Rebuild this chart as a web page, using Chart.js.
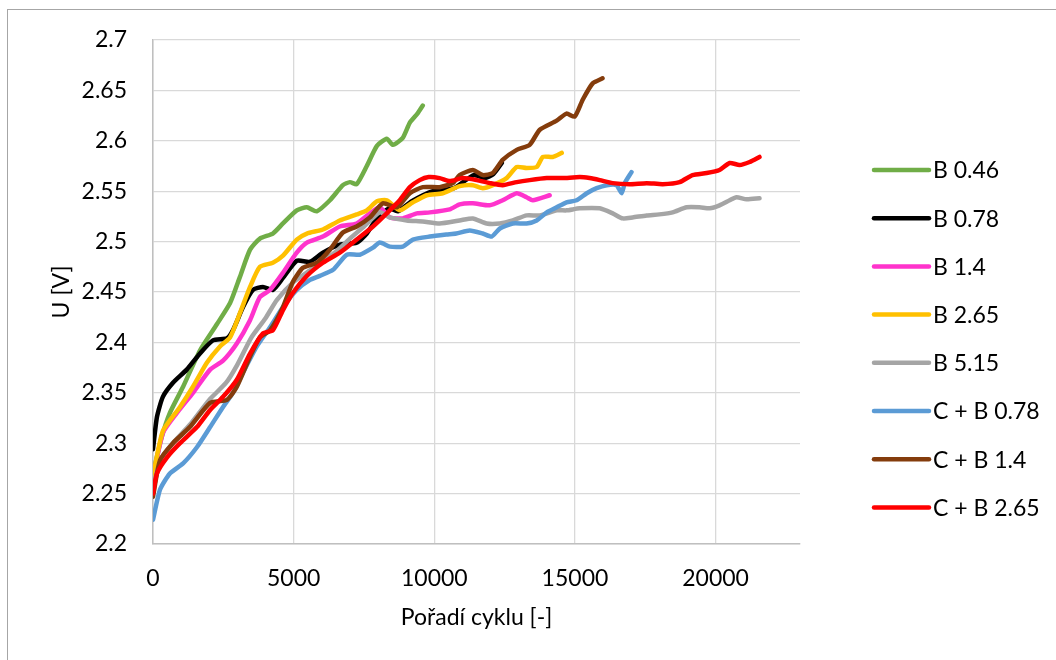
<!DOCTYPE html>
<html>
<head>
<meta charset="utf-8">
<script src="https://cdn.jsdelivr.net/npm/chart.js@4/dist/chart.umd.min.js"></script>
<style>
  html, body { margin: 0; padding: 0; background: #ffffff; }
  #wrap { width: 1056px; height: 660px; position: relative; }
</style>
</head>
<body>
<div id="wrap"><canvas id="c" width="1056" height="660"></canvas></div>
<script>
// ---- data ----
const seriesLabels = ['B 0.46', 'B 0.78', 'B 1.4', 'B 2.65', 'B 5.15', 'C + B 0.78', 'C + B 1.4', 'C + B 2.65'];
const seriesColors = ['#70AD47', '#000000', '#FF33CC', '#FFC000', '#A5A5A5', '#5B9BD5', '#843C0C', '#FF0000'];

const cycB046 = [0, 300, 600, 1070, 1670, 2270, 2740, 3090, 3450, 3800, 4260, 4620, 5110, 5470, 5820, 6290, 6750, 7000, 7240, 7600, 7960, 8310, 8530, 8880, 9130, 9400, 9590];
const uB046   = [2.27, 2.305, 2.33, 2.356, 2.392, 2.418, 2.439, 2.465, 2.492, 2.503, 2.508, 2.518, 2.531, 2.534, 2.530, 2.541, 2.556, 2.559, 2.557, 2.575, 2.595, 2.602, 2.596, 2.603, 2.618, 2.627, 2.635];

const cycB078 = [0, 140, 350, 710, 1200, 1670, 2130, 2630, 2840, 3200, 3550, 3910, 4260, 4620, 5110, 5580, 6040, 6640, 7240, 7600, 8000, 8400, 8700, 9200, 9950, 10700, 11400, 11800, 12100, 12400];
const uB078   = [2.294, 2.326, 2.346, 2.36, 2.373, 2.389, 2.402, 2.404, 2.412, 2.435, 2.452, 2.455, 2.452, 2.464, 2.481, 2.480, 2.489, 2.497, 2.499, 2.508, 2.525, 2.533, 2.530, 2.540, 2.550, 2.553, 2.566, 2.563, 2.567, 2.578];

const cycB14 = [0, 350, 850, 1420, 2030, 2490, 2980, 3450, 3800, 4160, 4620, 5110, 5470, 6040, 6640, 7240, 7710, 8060, 8420, 8880, 9380, 9840, 10550, 10900, 11370, 11970, 12430, 12930, 13280, 13500, 14100];
const uB14   = [2.265, 2.31, 2.33, 2.35, 2.373, 2.382, 2.399, 2.422, 2.445, 2.452, 2.469, 2.489, 2.499, 2.505, 2.515, 2.518, 2.528, 2.534, 2.524, 2.523, 2.528, 2.529, 2.532, 2.537, 2.538, 2.536, 2.541, 2.548, 2.544, 2.541, 2.546];

const cycB265 = [0, 350, 960, 1420, 1920, 2380, 2740, 3090, 3450, 3800, 4260, 4620, 5110, 5470, 6040, 6640, 7240, 7600, 7960, 8310, 8770, 9240, 9730, 10300, 10900, 11370, 11720, 12080, 12570, 12930, 13280, 13640, 13860, 14210, 14530];
const uB265   = [2.267, 2.312, 2.336, 2.356, 2.38, 2.396, 2.405, 2.429, 2.455, 2.475, 2.479, 2.486, 2.502, 2.508, 2.512, 2.521, 2.527, 2.531, 2.540, 2.541, 2.531, 2.539, 2.546, 2.548, 2.555, 2.556, 2.553, 2.556, 2.563, 2.574, 2.573, 2.574, 2.584, 2.584, 2.588];

const cycB515 = [0, 300, 700, 1300, 2000, 2600, 3000, 3500, 4000, 4400, 5000, 5500, 6000, 6500, 7000, 7500, 8060, 8420, 9020, 9590, 10190, 10900, 11370, 11860, 12330, 12790, 13280, 13750, 14350, 14700, 15170, 15880, 16340, 16700, 17050, 17550, 18000, 18470, 18970, 19430, 19790, 20140, 20500, 20740, 21100, 21560];
const uB515   = [2.258, 2.285, 2.30, 2.318, 2.343, 2.36, 2.378, 2.405, 2.424, 2.442, 2.46, 2.47, 2.48, 2.49, 2.503, 2.515, 2.529, 2.524, 2.521, 2.520, 2.518, 2.521, 2.523, 2.518, 2.518, 2.521, 2.526, 2.526, 2.531, 2.531, 2.533, 2.533, 2.528, 2.523, 2.524, 2.526, 2.527, 2.529, 2.534, 2.534, 2.533, 2.536, 2.541, 2.544, 2.542, 2.543];

const cycCB078 = [0, 250, 600, 1070, 1560, 2030, 2490, 2840, 3200, 3690, 4160, 4620, 5110, 5580, 5930, 6400, 6890, 7350, 7820, 8060, 8420, 8880, 9240, 9840, 10430, 10780, 11260, 11720, 12040, 12330, 12790, 13280, 13640, 14000, 14350, 14700, 15060, 15420, 15770, 16130, 16480, 16660, 16770, 17010];
const uCB078   = [2.224, 2.254, 2.27, 2.28, 2.296, 2.316, 2.336, 2.35, 2.37, 2.396, 2.415, 2.435, 2.452, 2.462, 2.466, 2.472, 2.487, 2.487, 2.494, 2.499, 2.495, 2.495, 2.502, 2.505, 2.507, 2.508, 2.511, 2.508, 2.505, 2.513, 2.518, 2.518, 2.521, 2.529, 2.534, 2.539, 2.541, 2.548, 2.553, 2.556, 2.556, 2.548, 2.558, 2.569];

const cycCB14 = [0, 250, 710, 1310, 2030, 2630, 2980, 3450, 3800, 4160, 4620, 4970, 5330, 5820, 6290, 6750, 7240, 7710, 8170, 8670, 9130, 9590, 10190, 10660, 10900, 11370, 11720, 12080, 12430, 12930, 13390, 13750, 14350, 14700, 14990, 15280, 15630, 15980];
const uCB14   = [2.247, 2.283, 2.30, 2.316, 2.34, 2.343, 2.356, 2.386, 2.405, 2.412, 2.435, 2.460, 2.474, 2.479, 2.492, 2.509, 2.515, 2.524, 2.538, 2.534, 2.548, 2.554, 2.554, 2.558, 2.566, 2.571, 2.566, 2.568, 2.581, 2.591, 2.596, 2.611, 2.620, 2.627, 2.624, 2.641, 2.657, 2.662];

const cycCB265 = [0, 140, 500, 960, 1560, 2030, 2490, 2980, 3450, 3910, 4260, 4620, 4970, 5470, 6040, 6640, 7240, 7820, 8310, 8770, 9130, 9480, 9800, 10190, 10550, 11010, 11510, 11970, 12430, 12930, 13390, 14000, 14560, 15170, 15520, 15880, 16340, 16940, 17550, 18120, 18720, 19180, 19680, 20140, 20500, 20850, 21210, 21560];
const uCB265   = [2.25, 2.27, 2.286, 2.30, 2.316, 2.333, 2.346, 2.363, 2.389, 2.409, 2.412, 2.432, 2.449, 2.466, 2.479, 2.489, 2.502, 2.515, 2.528, 2.541, 2.554, 2.561, 2.564, 2.563, 2.560, 2.563, 2.561, 2.558, 2.556, 2.559, 2.561, 2.563, 2.563, 2.564, 2.563, 2.561, 2.558, 2.557, 2.558, 2.557, 2.559, 2.566, 2.568, 2.571, 2.578, 2.576, 2.579, 2.584];

const xTickValues = [0, 5000, 10000, 15000, 20000];
const yTickValues = [2.2, 2.25, 2.3, 2.35, 2.4, 2.45, 2.5, 2.55, 2.6, 2.65, 2.7];
const xTitle = 'Pořadí cyklu [-]';
const yTitle = 'U [V]';
const xMin = 0, xMax = 23000;
const yMin = 2.2, yMax = 2.7;

// ---- build ----
const xs = [cycB046, cycB078, cycB14, cycB265, cycB515, cycCB078, cycCB14, cycCB265];
const ys = [uB046, uB078, uB14, uB265, uB515, uCB078, uCB14, uCB265];
const FONT = 'Lato, "Open Sans", sans-serif';
const FSIZE = 23;

const datasets = seriesLabels.map((lab, i) => ({
  label: lab,
  data: xs[i].map((x, k) => ({ x: x, y: ys[i][k] })),
  borderColor: seriesColors[i],
  backgroundColor: seriesColors[i],
  borderWidth: 4.5,
  pointRadius: 0,
  tension: 0.2,
  fill: false,
  borderCapStyle: 'round',
  borderJoinStyle: 'round',
  order: seriesLabels.length - i
}));

const frameAndLegend = {
  id: 'frameAndLegend',
  beforeDraw(chart) {
    const ctx = chart.ctx;
    ctx.save();
    ctx.fillStyle = '#ffffff';
    ctx.fillRect(0, 0, chart.width, chart.height);
    ctx.strokeStyle = '#a6a6a6';
    ctx.lineWidth = 1;
    ctx.strokeRect(7.5, 9.5, 3000, 3000);
    ctx.restore();
  },
  afterDraw(chart) {
    const ctx = chart.ctx;
    ctx.save();
    const x0 = 874, x1 = 929, tx = 933, top = 170, gap = 48.2;
    ctx.font = FSIZE + 'px ' + FONT;
    ctx.textBaseline = 'middle';
    ctx.textAlign = 'left';
    seriesLabels.forEach((lab, i) => {
      const y = top + i * gap;
      ctx.strokeStyle = seriesColors[i];
      ctx.lineWidth = 4.5;
      ctx.lineCap = 'round';
      ctx.beginPath();
      ctx.moveTo(x0, y);
      ctx.lineTo(x1, y);
      ctx.stroke();
      ctx.fillStyle = '#000000';
      ctx.fillText(lab, tx, y + 1);
    });
    ctx.restore();
  }
};

new Chart(document.getElementById('c'), {
  type: 'line',
  data: { datasets: datasets },
  plugins: [frameAndLegend],
  options: {
    responsive: false,
    animation: false,
    devicePixelRatio: 1,
    layout: { padding: { top: 40, right: 256, bottom: 0, left: 0 } },
    plugins: { legend: { display: false }, tooltip: { enabled: false } },
    scales: {
      x: {
        type: 'linear',
        min: xMin, max: xMax,
        afterBuildTicks: (axis) => { axis.ticks = xTickValues.map(v => ({ value: v })); },
        afterFit: (scale) => { scale.height = 116; },
        ticks: {
          autoSkip: false,
          padding: 21,
          color: '#000000',
          font: { family: FONT, size: FSIZE },
          maxRotation: 0,
          minRotation: 0,
          callback: (v) => String(v)
        },
        grid: { color: '#d9d9d9', lineWidth: 1.3, drawTicks: false },
        border: { display: true, color: '#bfbfbf', width: 1.5 },
        title: {
          display: true, text: xTitle, color: '#000000',
          font: { family: FONT, size: FSIZE },
          padding: { top: 0, bottom: 29 }
        }
      },
      y: {
        type: 'linear',
        min: yMin, max: yMax,
        afterBuildTicks: (axis) => { axis.ticks = yTickValues.map(v => ({ value: v })); },
        afterFit: (scale) => { scale.width = 153; },
        ticks: {
          autoSkip: false,
          padding: 26,
          color: '#000000',
          font: { family: FONT, size: FSIZE },
          callback: (v) => String(Number(v.toFixed(2)))
        },
        grid: { color: '#d9d9d9', lineWidth: 1.3, drawTicks: false },
        border: { display: true, color: '#bfbfbf', width: 1.5 },
        title: {
          display: true, text: yTitle, color: '#000000',
          font: { family: FONT, size: FSIZE },
          padding: { top: 48, bottom: 0 }
        }
      }
    }
  }
});
</script>
</body>
</html>
